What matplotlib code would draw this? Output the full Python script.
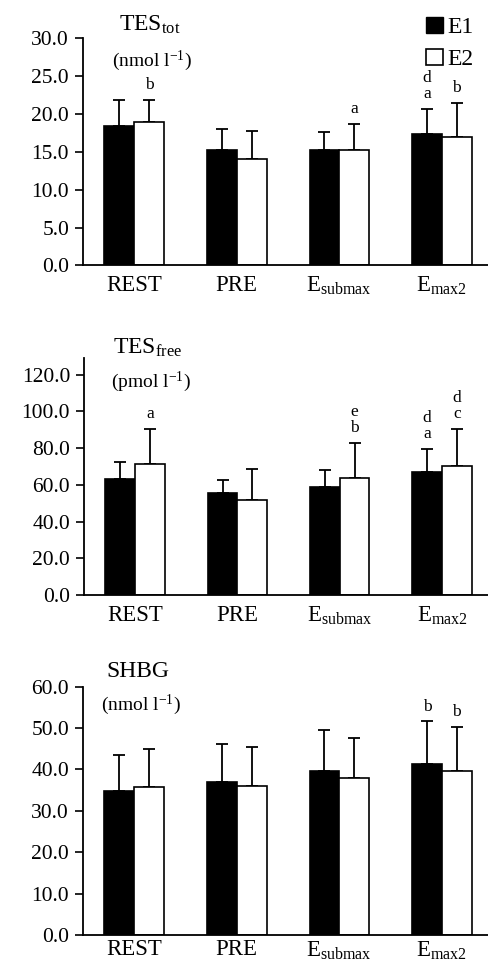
import numpy as np
import matplotlib
matplotlib.use("Agg")
import matplotlib.pyplot as plt
from matplotlib.patches import Patch

plt.rcParams['font.family'] = ['Liberation Serif', 'DejaVu Serif']
plt.rcParams['mathtext.fontset'] = 'custom'
plt.rcParams['mathtext.rm'] = 'Liberation Serif'
plt.rcParams['mathtext.it'] = 'Liberation Serif'

categories = [r'REST', r'PRE', r'E$_{\mathrm{submax}}$', r'E$_{\mathrm{max2}}$']

# TES total (nmol/l)
tot_e1 = [18.4, 15.2, 15.2, 17.3]
tot_e1_sd = [3.4, 2.8, 2.4, 3.4]
tot_e2 = [18.9, 14.0, 15.3, 16.9]
tot_e2_sd = [2.9, 3.8, 3.4, 4.5]
tot_e1_sig = ['', '', '', 'd\na']
tot_e2_sig = ['b', '', 'a', 'b']

# TES free (pmol/l)
free_e1 = [63.3, 55.8, 58.9, 66.9]
free_e1_sd = [9.2, 7.1, 9.3, 12.5]
free_e2 = [71.2, 51.8, 63.8, 70.5]
free_e2_sd = [19.2, 17.1, 19.2, 19.9]
free_e1_sig = ['', '', '', 'd\na']
free_e2_sig = ['a', '', 'e\nb', 'd\nc']

# SHBG (nmol/l)
shbg_e1 = [34.7, 37.0, 39.7, 41.3]
shbg_e1_sd = [8.8, 9.1, 9.9, 10.3]
shbg_e2 = [35.7, 36.1, 38.0, 39.6]
shbg_e2_sd = [9.15, 9.4, 9.6, 10.7]
shbg_e1_sig = ['', '', '', 'b']
shbg_e2_sig = ['', '', '', 'b']

panels = [
    dict(e1=tot_e1, e1sd=tot_e1_sd, e2=tot_e2, e2sd=tot_e2_sd,
         s1=tot_e1_sig, s2=tot_e2_sig, ylim=30, step=5,
         title=r'TES$_{\mathrm{tot}}$', unit=r'(nmol l$^{-1}$)',
         pos=[0.170, 0.7256, 0.830, 0.2348], pad=7,
         title_xy=(0.165, 1.06), unit_xy=(0.17, 0.90)),
    dict(e1=free_e1, e1sd=free_e1_sd, e2=free_e2, e2sd=free_e2_sd,
         s1=free_e1_sig, s2=free_e2_sig, ylim=129, step=20,
         title=r'TES$_{\mathrm{free}}$', unit=r'(pmol l$^{-1}$)',
         pos=[0.172, 0.3847, 0.828, 0.2448], pad=7,
         title_xy=(0.158, 1.045), unit_xy=(0.166, 0.90)),
    dict(e1=shbg_e1, e1sd=shbg_e1_sd, e2=shbg_e2, e2sd=shbg_e2_sd,
         s1=shbg_e1_sig, s2=shbg_e2_sig, ylim=60, step=10,
         title='SHBG', unit=r'(nmol l$^{-1}$)',
         pos=[0.170, 0.0330, 0.830, 0.2569], pad=3,
         title_xy=(0.136, 1.06), unit_xy=(0.143, 0.927)),
]

fig = plt.figure(figsize=(4.88, 9.67), dpi=100)
x = np.arange(len(categories))
w = 0.29

for p in panels:
    ax = fig.add_axes(p['pos'])
    for off, vals, sd, sig, fc in [(-w / 2, p['e1'], p['e1sd'], p['s1'], 'black'),
                                   (w / 2, p['e2'], p['e2sd'], p['s2'], 'white')]:
        ax.bar(x + off, vals, width=w, color=fc, edgecolor='black', linewidth=1.2, zorder=2)
        ax.errorbar(x + off, vals, yerr=[np.zeros(len(vals)), sd], fmt='none',
                    ecolor='black', elinewidth=1.3, capsize=4.5, capthick=1.3, zorder=1)
        for xi, v, s, t in zip(x + off, vals, sd, sig):
            if t:
                ax.annotate(t, (xi, v + s), xytext=(0, 5), textcoords='offset points',
                            ha='center', va='bottom', fontsize=12.5, linespacing=1.0)
    ax.set_xlim(-0.5, 3.45)
    ax.set_ylim(0, p['ylim'])
    ax.set_yticks(np.arange(0, p['ylim'] + 0.01, p['step']))
    ax.set_yticklabels(['%.1f' % t for t in ax.get_yticks()], fontsize=15.5)
    ax.set_xticks(x)
    ax.set_xticklabels(categories, fontsize=16.5)
    ax.tick_params(axis='x', length=0, pad=p['pad'])
    ax.tick_params(axis='y', length=6, width=1.2, direction='out', pad=4)
    ax.spines['top'].set_visible(False)
    ax.spines['right'].set_visible(False)
    ax.spines['left'].set_linewidth(1.3)
    ax.spines['bottom'].set_linewidth(1.3)
    ax.text(*p['title_xy'], p['title'], transform=ax.transAxes, ha='center',
            va='center', fontsize=17)
    ax.text(*p['unit_xy'], p['unit'], transform=ax.transAxes, ha='center',
            va='center', fontsize=14)

handles = [Patch(facecolor='black', edgecolor='black'),
           Patch(facecolor='white', edgecolor='black', linewidth=1.2)]
fig.legend(handles, ['E1', 'E2'], loc='upper right', bbox_to_anchor=(1.005, 1.0),
           frameon=False, fontsize=17, handlelength=0.7, handleheight=0.7,
           handletextpad=0.2, labelspacing=0.45, borderaxespad=0.3)

fig.savefig('out.png', dpi=100)
